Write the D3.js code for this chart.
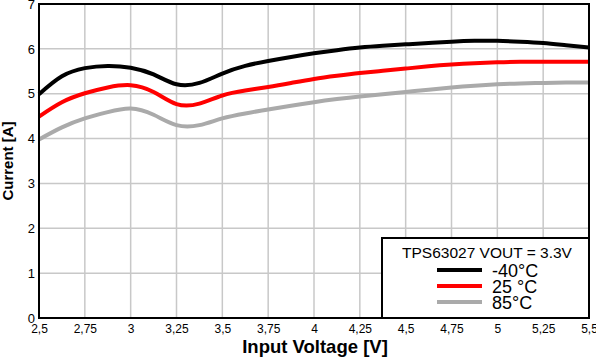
<!DOCTYPE html>
<html><head><meta charset="utf-8">
<script src="https://cdn.jsdelivr.net/npm/d3@7"></script>
<style>body{margin:0;background:#fff}svg{display:block;font-family:"Liberation Sans",Arial,sans-serif}</style>
</head><body><svg id="c" width="596" height="358"></svg>
<script>
const voltages = [2.5, 2.625, 2.75, 2.875, 3.0, 3.125, 3.25, 3.375, 3.5, 3.625, 3.75, 3.875, 4.0, 4.125, 4.25, 4.375, 4.5, 4.625, 4.75, 4.875, 5.0, 5.125, 5.25, 5.375, 5.5];
const currentM40 = [4.99, 5.39, 5.57, 5.62, 5.58, 5.43, 5.21, 5.24, 5.45, 5.62, 5.73, 5.82, 5.90, 5.97, 6.03, 6.07, 6.10, 6.13, 6.16, 6.18, 6.18, 6.16, 6.13, 6.08, 6.03];
const current25 = [4.49, 4.81, 5.01, 5.14, 5.19, 5.04, 4.77, 4.78, 4.96, 5.07, 5.15, 5.24, 5.33, 5.40, 5.46, 5.51, 5.56, 5.61, 5.65, 5.68, 5.70, 5.71, 5.71, 5.71, 5.71];
const current85 = [3.98, 4.25, 4.45, 4.59, 4.67, 4.53, 4.30, 4.30, 4.45, 4.56, 4.65, 4.73, 4.81, 4.88, 4.94, 4.99, 5.04, 5.09, 5.14, 5.18, 5.21, 5.23, 5.24, 5.25, 5.25];
const seriesNames = ["-40°C", "25 °C", "85°C"];
const seriesColors = ["#000000", "#ff0000", "#aaaaaa"];
const xTicks = [2.5, 2.75, 3, 3.25, 3.5, 3.75, 4, 4.25, 4.5, 4.75, 5, 5.25, 5.5];
const yTicks = [0, 1, 2, 3, 4, 5, 6, 7];
const legendTitle = "TPS63027 VOUT = 3.3V";

const svg = d3.select("#c");
const L = 39, R = 589, T = 4, B = 318;
const x = d3.scaleLinear().domain([2.5, 5.5]).range([L, R]);
const y = d3.scaleLinear().domain([0, 7]).range([B, T]);

// grid
svg.append("g").selectAll("line").data(xTicks).join("line")
  .attr("x1", d => x(d)).attr("x2", d => x(d)).attr("y1", T).attr("y2", B)
  .attr("stroke", "#c8c8c8").attr("stroke-width", 1.5);
svg.append("g").selectAll("line").data(yTicks).join("line")
  .attr("x1", L).attr("x2", R).attr("y1", d => y(d)).attr("y2", d => y(d))
  .attr("stroke", "#c8c8c8").attr("stroke-width", 1.5);

// series
const all = [currentM40, current25, current85];
const line = d3.line().x(d => x(d[0])).y(d => y(d[1])).curve(d3.curveNatural);
all.forEach((vals, i) => {
  svg.append("path").datum(voltages.map((v, j) => [v, vals[j]]))
    .attr("d", line).attr("fill", "none").attr("stroke", seriesColors[i])
    .attr("stroke-width", 4).attr("stroke-linejoin", "round");
});

// frame
svg.append("rect").attr("x", L).attr("y", T).attr("width", R - L).attr("height", B - T)
  .attr("fill", "none").attr("stroke", "#000").attr("stroke-width", 2);

// axes
const xAxis = svg.append("g").attr("transform", `translate(0,${B})`)
  .call(d3.axisBottom(x).tickValues(xTicks).tickSize(0).tickPadding(6)
    .tickFormat(d => String(d).replace(".", ",")));
xAxis.select(".domain").remove();
xAxis.selectAll("text").attr("font-size", 12).attr("fill", "#000")
  .attr("font-family", "Liberation Sans, Arial, sans-serif");
const yAxis = svg.append("g").attr("transform", `translate(${L},0)`)
  .call(d3.axisLeft(y).tickValues(yTicks).tickSize(0).tickPadding(4).tickFormat(d3.format("d")));
yAxis.select(".domain").remove();
yAxis.selectAll("text").attr("font-size", 13).attr("fill", "#000")
  .attr("font-family", "Liberation Sans, Arial, sans-serif");

svg.append("text").attr("x", 315).attr("y", 353).attr("text-anchor", "middle")
  .attr("font-size", 18.5).attr("font-weight", "bold").text("Input Voltage [V]");
svg.append("text").attr("transform", "translate(13,161) rotate(-90)").attr("text-anchor", "middle")
  .attr("font-size", 15).attr("font-weight", "bold").text("Current [A]");

// legend
const lg = svg.append("g");
lg.append("rect").attr("x", 382).attr("y", 238).attr("width", R - 382).attr("height", B - 238)
  .attr("fill", "#fff").attr("stroke", "#000").attr("stroke-width", 2);
lg.append("text").attr("x", 487).attr("y", 258).attr("text-anchor", "middle")
  .attr("font-size", 15.5).text(legendTitle);
seriesNames.forEach((n, i) => {
  const yy = 270 + i * 16;
  lg.append("line").attr("x1", 437).attr("x2", 482).attr("y1", yy).attr("y2", yy)
    .attr("stroke", seriesColors[i]).attr("stroke-width", 4);
  lg.append("text").attr("x", 492).attr("y", yy + 7).attr("font-size", 18).text(n);
});
</script></body></html>
